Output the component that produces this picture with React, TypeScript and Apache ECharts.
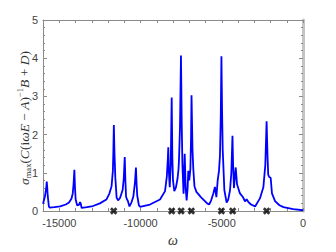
import React, { useEffect, useRef } from "react";
import * as echarts from "echarts";

// Frequency (omega) samples and sigma_max values
const omega: number[] = [
  -16000, -15880, -15800, -15770, -15740, -15710, -15640, -15600, -15300, -14950,
  -14600, -14400, -14250, -14170, -14120, -14070, -14030, -13990, -13900, -13790,
  -13720, -13680, -13620, -13300, -12920, -12500, -12100, -11920, -11780, -11700,
  -11670, -11640, -11600, -11550, -11470, -11380, -11260, -11100, -11030, -10970,
  -10930, -10890, -10830, -10780, -10680, -10560, -10440, -10340, -10280, -10240,
  -10200, -10100, -10030, -9420, -8800, -8490, -8380, -8320, -8290, -8250,
  -8200, -8140, -8080, -8040, -8000, -7920, -7820, -7720, -7660, -7630,
  -7570, -7510, -7460, -7420, -7350, -7280, -7220, -7160, -7100, -7060,
  -7000, -6930, -6890, -6860, -6800, -6750, -6680, -6560, -6440, -6300,
  -6130, -5900, -5780, -5650, -5520, -5420, -5330, -5250, -5170, -5110,
  -5060, -5020, -4980, -4940, -4840, -4700, -4600, -4490, -4410, -4340,
  -4300, -4250, -4140, -4060, -3880, -3690, -3570, -3470, -3370, -3200,
  -2950, -2650, -2440, -2320, -2240, -2180, -2140, -2080, -1990, -1910,
  -1720, -1450, -1200, -600, 0,
];

const sigmaMax: number[] = [
  0.19, 0.38, 0.62, 0.77, 0.62, 0.4, 0.13, 0.09, 0.1, 0.12,
  0.17, 0.22, 0.32, 0.46, 0.7, 1.08, 0.6, 0.3, 0.15, 0.16,
  0.23, 0.2, 0.08, 0.1, 0.13, 0.2, 0.3, 0.45, 0.65, 1.05,
  1.55, 2.25, 1.5, 0.88, 0.35, 0.28, 0.34, 0.55, 0.85, 1.41,
  0.8, 0.38, 0.3, 0.27, 0.12, 0.22, 0.38, 0.75, 1.14, 0.7,
  0.4, 0.15, 0.11, 0.17, 0.3, 0.52, 0.9, 1.35, 1.67, 1.0,
  0.62, 1.2, 2.97, 1.4, 0.8, 0.52, 0.62, 0.85, 1.1, 1.35,
  2.2, 4.07, 2.2, 1.2, 0.45, 1.5, 0.6, 0.28, 0.6, 1.05,
  0.8, 1.1, 1.9, 3.03, 1.6, 1.1, 0.65, 0.5, 0.44, 0.37,
  0.3, 0.2, 0.17, 0.28, 0.46, 0.63, 0.36, 0.8, 1.05, 1.45,
  2.5, 4.05, 2.6, 1.6, 0.55, 0.22, 0.3, 0.55, 1.0, 1.97,
  1.2, 0.6, 1.14, 0.7, 0.46, 0.36, 0.25, 0.31, 0.24, 0.17,
  0.12, 0.33, 0.62, 1.2, 2.35, 1.4, 0.95, 0.89, 0.87, 0.46,
  0.26, 0.15, 0.1, 0.05, 0.02,
];

// Marker (cross) positions on the omega axis
const markerOmega: number[] = [-11650, -8080, -7500, -6870, -5020, -4330, -2240];

const xLabelValues: number[] = [-15000, -10000, -5000, 0];

const FRAME = "#8a8a8a";
const LABEL = "#444444";
const crossPath =
  "path://M2.6,0L5,2.4L7.4,0L10,2.6L7.6,5L10,7.4L7.4,10L5,7.6L2.6,10L0,7.4L2.4,5L0,2.6Z";

export default function App() {
  const ref = useRef<HTMLDivElement>(null);

  useEffect(() => {
    if (!ref.current) return;
    const chart = echarts.init(ref.current, undefined, { renderer: "svg" });

    const lineData = omega.map((w, i) => [w, sigmaMax[i]]);
    const markerData = markerOmega.map((w) => [w, 0]);

    const baseX = {
      type: "value" as const,
      min: -16000,
      max: 0,
      interval: 1000,
      splitLine: { show: false },
      axisLine: { show: true, onZero: false, lineStyle: { color: FRAME, width: 1 } },
      axisTick: { show: true, inside: true, length: 3, lineStyle: { color: FRAME } },
    };
    const baseY = {
      type: "value" as const,
      min: 0,
      max: 5,
      interval: 1,
      splitLine: { show: false },
      axisTick: { show: true, inside: true, length: 4, lineStyle: { color: FRAME } },
      minorTick: { show: true, splitNumber: 5, length: 2, lineStyle: { color: FRAME } },
    };

    const main = { fontFamily: "Liberation Serif", fontSize: 13.5, lineHeight: 17, fill: "#333" };
    const small = { fontFamily: "Liberation Serif", fontSize: 8.5, lineHeight: 9, fill: "#333" };

    chart.setOption({
      animation: false,
      backgroundColor: "#ffffff",
      grid: { left: 43, right: 33, top: 20, bottom: 34, containLabel: false },
      xAxis: [
        {
          ...baseX,
          position: "bottom",
          axisLabel: {
            show: true,
            color: LABEL,
            fontSize: 11,
            fontFamily: "Liberation Sans",
            margin: 6,
            formatter: (v: number) => (xLabelValues.includes(v) ? String(v) : ""),
          },
          name: "ω",
          nameLocation: "middle",
          nameGap: 22,
          nameTextStyle: {
            fontFamily: "Liberation Serif",
            fontStyle: "italic",
            fontSize: 14,
            color: "#333",
          },
        },
        {
          ...baseX,
          position: "top",
          axisLabel: { show: false },
        },
      ],
      yAxis: [
        {
          ...baseY,
          position: "left",
          axisLine: { show: true, onZero: false, lineStyle: { color: FRAME, width: 1 } },
          axisLabel: {
            show: true,
            color: LABEL,
            fontSize: 11,
            fontFamily: "Liberation Sans",
            margin: 5,
          },
        },
        {
          ...baseY,
          position: "right",
          axisLine: { show: true, onZero: false, lineStyle: { color: "#c4c4c4", width: 3 } },
          axisLabel: { show: false },
        },
      ],
      graphic: [
        {
          type: "text",
          x: 24,
          y: 118,
          rotation: Math.PI / 2,
          style: {
            text:
              "{i|σ}{sub|max}{r|(}{i|C}{r|(i}{i|ωE}{r| − }{i|A}{r|)}{sup|−1}{i|B}{r| + }{i|D}{r|)}",
            align: "center",
            verticalAlign: "middle",
            fill: "#333",
            rich: {
              i: { ...main, fontStyle: "italic" },
              r: { ...main },
              sub: { ...small, verticalAlign: "bottom" },
              sup: { ...small, verticalAlign: "top" },
            },
          },
        },
      ],
      series: [
        {
          type: "line",
          xAxisIndex: 0,
          yAxisIndex: 0,
          data: lineData,
          showSymbol: false,
          symbol: "none",
          lineStyle: { color: "#0000ff", width: 1.8 },
          z: 2,
        },
        {
          type: "scatter",
          xAxisIndex: 0,
          yAxisIndex: 0,
          data: markerData,
          symbol: crossPath,
          symbolSize: 7.5,
          itemStyle: { color: "#000000" },
          clip: false,
          z: 3,
        },
      ],
    });

    return () => {
      chart.dispose();
    };
  }, []);

  return (
    <div
      ref={ref}
      style={{
        position: "fixed",
        left: 0,
        top: 0,
        width: 336,
        height: 252,
        background: "#fff",
      }}
    />
  );
}
